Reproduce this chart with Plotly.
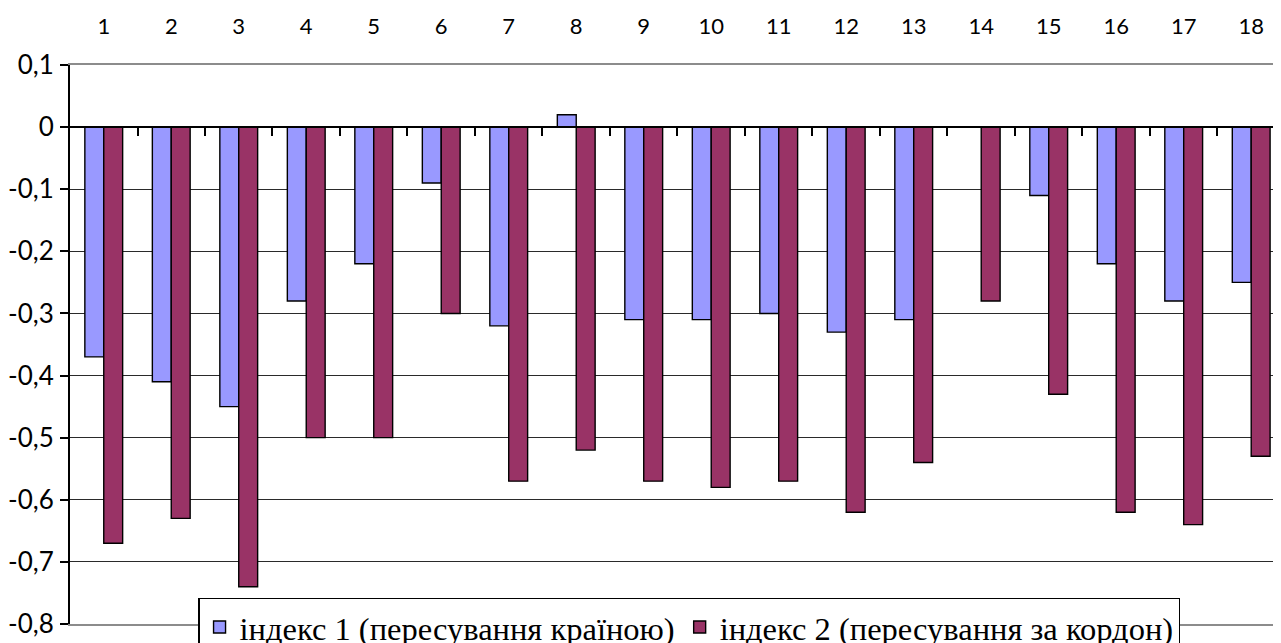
import plotly.graph_objects as go

categories = list(range(1, 19))
index1 = [-0.37, -0.41, -0.45, -0.28, -0.22, -0.09, -0.32, 0.02, -0.31, -0.31,
          -0.30, -0.33, -0.31, 0.0, -0.11, -0.22, -0.28, -0.25]
index2 = [-0.67, -0.63, -0.74, -0.50, -0.50, -0.30, -0.57, -0.52, -0.57, -0.58,
          -0.57, -0.62, -0.54, -0.28, -0.43, -0.62, -0.64, -0.53]
name1 = "індекс 1 (пересування країною)"
name2 = "індекс 2 (пересування за кордон)"
y_ticks = [0.1, 0.0, -0.1, -0.2, -0.3, -0.4, -0.5, -0.6, -0.7, -0.8]
y_ticktext = ["0,1", "0", "-0,1", "-0,2", "-0,3", "-0,4", "-0,5", "-0,6", "-0,7", "-0,8"]

y_min, y_max = -0.8, 0.1

fig = go.Figure()
fig.add_trace(go.Bar(x=categories, y=index1, name=name1,
                     marker=dict(color="#9999FF", line=dict(color="#000000", width=1.4))))
fig.add_trace(go.Bar(x=categories, y=index2, name=name2,
                     marker=dict(color="#993366", line=dict(color="#000000", width=1.4))))

# helper axis crossing at y = 0, with tick marks between categories
fig.add_trace(go.Scatter(x=[categories[0]], y=[0], xaxis="x2", yaxis="y",
                         mode="markers", marker=dict(opacity=0), showlegend=False,
                         hoverinfo="skip"))

boundaries = [c + 0.5 for c in categories[:-1]]
x_range = [0.5, 18.56]

fig.update_layout(
    width=1281, height=643,
    margin=dict(l=62, r=0, t=57, b=27, autoexpand=False),
    paper_bgcolor="white", plot_bgcolor="white",
    barmode="group", bargap=0.44, bargroupgap=0,
    font=dict(family="Lato, Open Sans, sans-serif", size=20, color="black"),
    xaxis=dict(
        range=x_range, side="top", tickmode="array", tickvals=categories,
        ticktext=[str(c) for c in categories],
        ticks="", ticklabelstandoff=20,
        showgrid=False, zeroline=False,
        showline=True, linecolor="#8c8c8c", linewidth=2, mirror=True,
        tickfont=dict(family="Lato", size=22),
    ),
    xaxis2=dict(
        range=x_range, overlaying="x", anchor="free",
        position=(0 - y_min) / (y_max - y_min), side="bottom",
        tickmode="array", tickvals=boundaries, showticklabels=False,
        ticks="outside", ticklen=8, tickwidth=1.5, tickcolor="black",
        showline=True, linecolor="black", linewidth=2, showgrid=False, zeroline=False,
    ),
    yaxis=dict(
        range=[y_min, y_max], tickmode="array", tickvals=y_ticks, ticktext=y_ticktext,
        ticks="outside", ticklen=8, tickwidth=1.5, tickcolor="black",
        ticklabelstandoff=1,
        showline=True, linecolor="black", linewidth=2,
        showgrid=True, gridcolor="#2a2a2a", gridwidth=1.2, zeroline=False,
        tickfont=dict(family="Lato", size=26),
    ),
    legend=dict(
        orientation="h", x=0.508, xanchor="center", y=0.0465, yanchor="top",
        bgcolor="white", bordercolor="black", borderwidth=1.3,
        font=dict(family="Liberation Serif, Times New Roman, serif", size=32.5),
        itemwidth=30,
    ),
    showlegend=True,
)

fig.write_html("out.html")
